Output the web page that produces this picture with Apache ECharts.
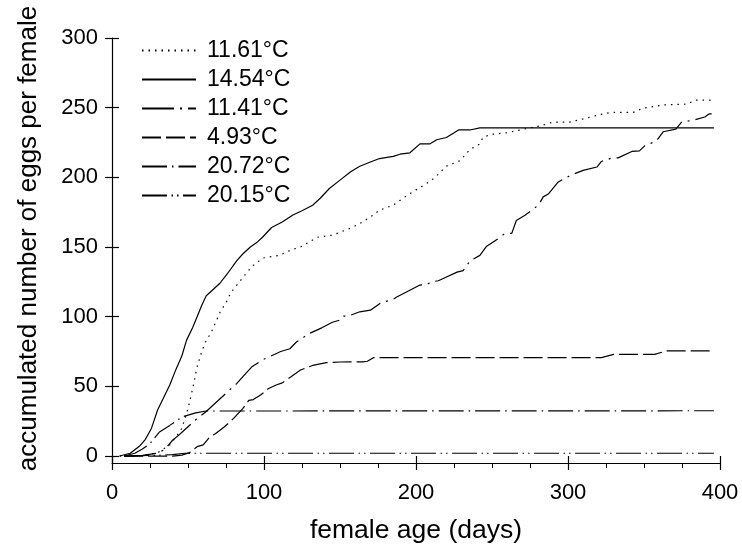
<!DOCTYPE html>
<html>
<head>
<meta charset="utf-8">
<script src="https://cdn.jsdelivr.net/npm/echarts@6/dist/echarts.min.js"></script>
<style>
html,body{margin:0;padding:0;background:#fff;}
#chart{width:742px;height:554px;}
</style>
</head>
<body>
<div id="chart"></div>
<script>
// ---- data (day, accumulated eggs per female) ----
const seriesNames = ['11.61°C', '14.54°C', '11.41°C', '4.93°C', '20.72°C', '20.15°C'];
const yTicks = [0, 50, 100, 150, 200, 250, 300];

const s1161 = [[5,0],[15,0],[25,1],[31,3],[38,8],[43,15],[46,20],[50,34],[53,48],[56,64],[59,75],[62,83],[65,88],[69,98],[71,103],[76,112],[78,117],[86,128],[92,136],[99,142],[110,144],[118,148],[124,150],[135,157],[145,158.5],[158,164],[165,168],[172,173],[176,176.5],[185,180],[194,187],[200,191],[209,197],[212.5,200],[220,208],[229,212],[235.5,220],[242,224],[244,228.6],[249,230.8],[260,232],[271,234.6],[282,237],[290,239.6],[301,239.6],[310,242],[321,245],[328,246.6],[343,246.6],[349.5,249.7],[363,252],[378,252.5],[384,255.4],[396,255.4]];

const s1454 = [[5,0],[12,2],[18,7],[22,12],[26,20],[30,33],[34,42],[38,51],[42,62],[46,72],[49,83],[53,92],[56,100],[59,108],[62,115],[66,119],[71,124],[76,131],[82,140],[86,145],[91,150],[95,153],[99,157],[105,164],[112,168],[119,173],[125,176],[132,180],[137,185],[143,192],[150,198],[157,204],[163,208],[170,211],[176,213.5],[185,215],[189.5,216.6],[196,217.6],[202.6,224],[209,224],[213.6,227],[220,228.6],[228,234],[235.5,234],[242,235.5],[396,235.5]];

const s1141 = [[8,0],[20,0.5],[30,2],[35,5],[40,11.5],[44,15],[48,19],[55,26],[62,32],[70,40],[76,46],[82,52],[87,58],[92,64],[99,69],[105,72],[111,75],[117,77],[121.5,82],[130,88],[138,92],[145,96],[150,97.6],[152,100.4],[155.5,100.4],[163,103.5],[170,104.7],[177,110],[185,112.4],[187,114],[195,118.4],[202.6,122.7],[207,123],[210,125],[214.7,125.8],[219,128],[227,132],[231,133],[235.5,140],[242,144],[246.5,150.6],[254,156],[258.5,159.8],[263,159.8],[266,169],[271.7,172.8],[280.5,180],[283.7,186],[287,188],[293.6,196.7],[302,201.6],[310,205],[319,207.4],[322,211.4],[328.7,213.8],[333,214],[342,218.6],[347,219],[350.6,222.8],[358,226],[362.6,232.7],[371,234.6],[375,240],[382,240.8],[390,243.3],[393,245.6],[394.5,245.6]];

const s493 = [[8,0],[40,0],[46,0.7],[51,2.4],[56,6.7],[60,8],[64.5,14],[68,16],[74,21],[80,27],[86,34],[90,40],[93,40.5],[98,44],[103,48.5],[108,51],[112,52.5],[118,57],[124,61.7],[132,65],[141,67],[150,67.5],[165,67.6],[168,68],[172,70.6],[322,70.6],[330,73],[357,73],[365,75.5],[396,75.5]];

const s2072 = [[8,0],[15,2],[20,5],[25,9],[31,17],[38,22],[46,28],[55,31],[62,32.3],[396,32.5]];

const s2015 = [[8,0],[30,0.5],[40,1],[48,2],[396,2]];

const seriesData = [s1161, s1454, s1141, s493, s2072, s2015];
const dashTypes = [[1.5,5], 'solid', [32,6,2,6], [19,5], [25,5,1.5,5], [25,4.5,1.5,4,1.5,4.5]];

// ---- chart ----
const FONT = 'Liberation Sans, Arial, sans-serif';
const chart = echarts.init(document.getElementById('chart'), null, {renderer: 'canvas'});
const gridW = 742 - 112 - 22;
const gridH = 554 - 38 - 91;

const option = {
  animation: false,
  backgroundColor: '#fff',
  textStyle: {fontFamily: FONT, color: '#000'},
  grid: {left: 112, right: 22, top: 38, bottom: 91, containLabel: false},
  legend: {
    orient: 'vertical',
    left: 136,
    top: 34,
    itemWidth: 54,
    itemHeight: 14,
    itemGap: 6,
    data: seriesNames,
    itemStyle: {opacity: 0, color: 'transparent', borderColor: 'transparent', borderWidth: 0},
    textStyle: {fontFamily: FONT, fontSize: 23, color: '#000', padding: [0, 0, 0, 6]}
  },
  xAxis: [{
    type: 'value', min: 0, max: 400, interval: 100, position: 'bottom',
    name: 'female age (days)', nameLocation: 'middle', nameGap: 54,
    nameTextStyle: {fontFamily: FONT, fontSize: 26.5, color: '#000'},
    axisLine: {show: true, onZero: false, lineStyle: {color: '#000', width: 1.2}},
    axisTick: {show: true, inside: false, length: 7, lineStyle: {color: '#000', width: 1.2}},
    minorTick: {show: true, splitNumber: 4, length: 5, lineStyle: {color: '#000', width: 1}},
    axisLabel: {fontFamily: FONT, fontSize: 22, color: '#000', margin: 19},
    splitLine: {show: false}, minorSplitLine: {show: false}
  }, {
    type: 'value', min: 0, max: 400, interval: 100, position: 'top', offset: -gridH,
    axisLine: {show: false, onZero: false},
    axisTick: {show: true, inside: false, length: 7, lineStyle: {color: '#000', width: 1.2}},
    axisLabel: {show: false}, splitLine: {show: false}
  }],
  yAxis: [{
    type: 'value', min: -5, max: 300, position: 'left',
    name: 'accumulated number of eggs per female', nameLocation: 'middle', nameGap: 70,
    nameTextStyle: {fontFamily: FONT, fontSize: 26, color: '#000', padding: [0, 0, 0, 24]},
    axisLine: {show: true, onZero: false, lineStyle: {color: '#000', width: 1.2}},
    axisTick: {show: true, inside: false, length: 7, customValues: yTicks, lineStyle: {color: '#000', width: 1.2}},
    axisLabel: {fontFamily: FONT, fontSize: 22, color: '#000', margin: 14, customValues: yTicks},
    splitLine: {show: false}
  }, {
    type: 'value', min: -5, max: 300, position: 'right', offset: -gridW,
    axisLine: {show: false, onZero: false},
    axisTick: {show: true, inside: false, length: 7, customValues: yTicks, lineStyle: {color: '#000', width: 1.2}},
    axisLabel: {show: false, customValues: yTicks}, splitLine: {show: false}
  }],
  series: seriesNames.map((n, i) => ({
    name: n,
    type: 'line',
    xAxisIndex: 0, yAxisIndex: 0,
    data: seriesData[i],
    symbol: 'none',
    showSymbol: false,
    smooth: false,
    silent: true,
    itemStyle: {color: '#000'},
    lineStyle: {color: '#000', width: 1.2, type: dashTypes[i]}
  }))
};
chart.setOption(option);
</script>
</body>
</html>
